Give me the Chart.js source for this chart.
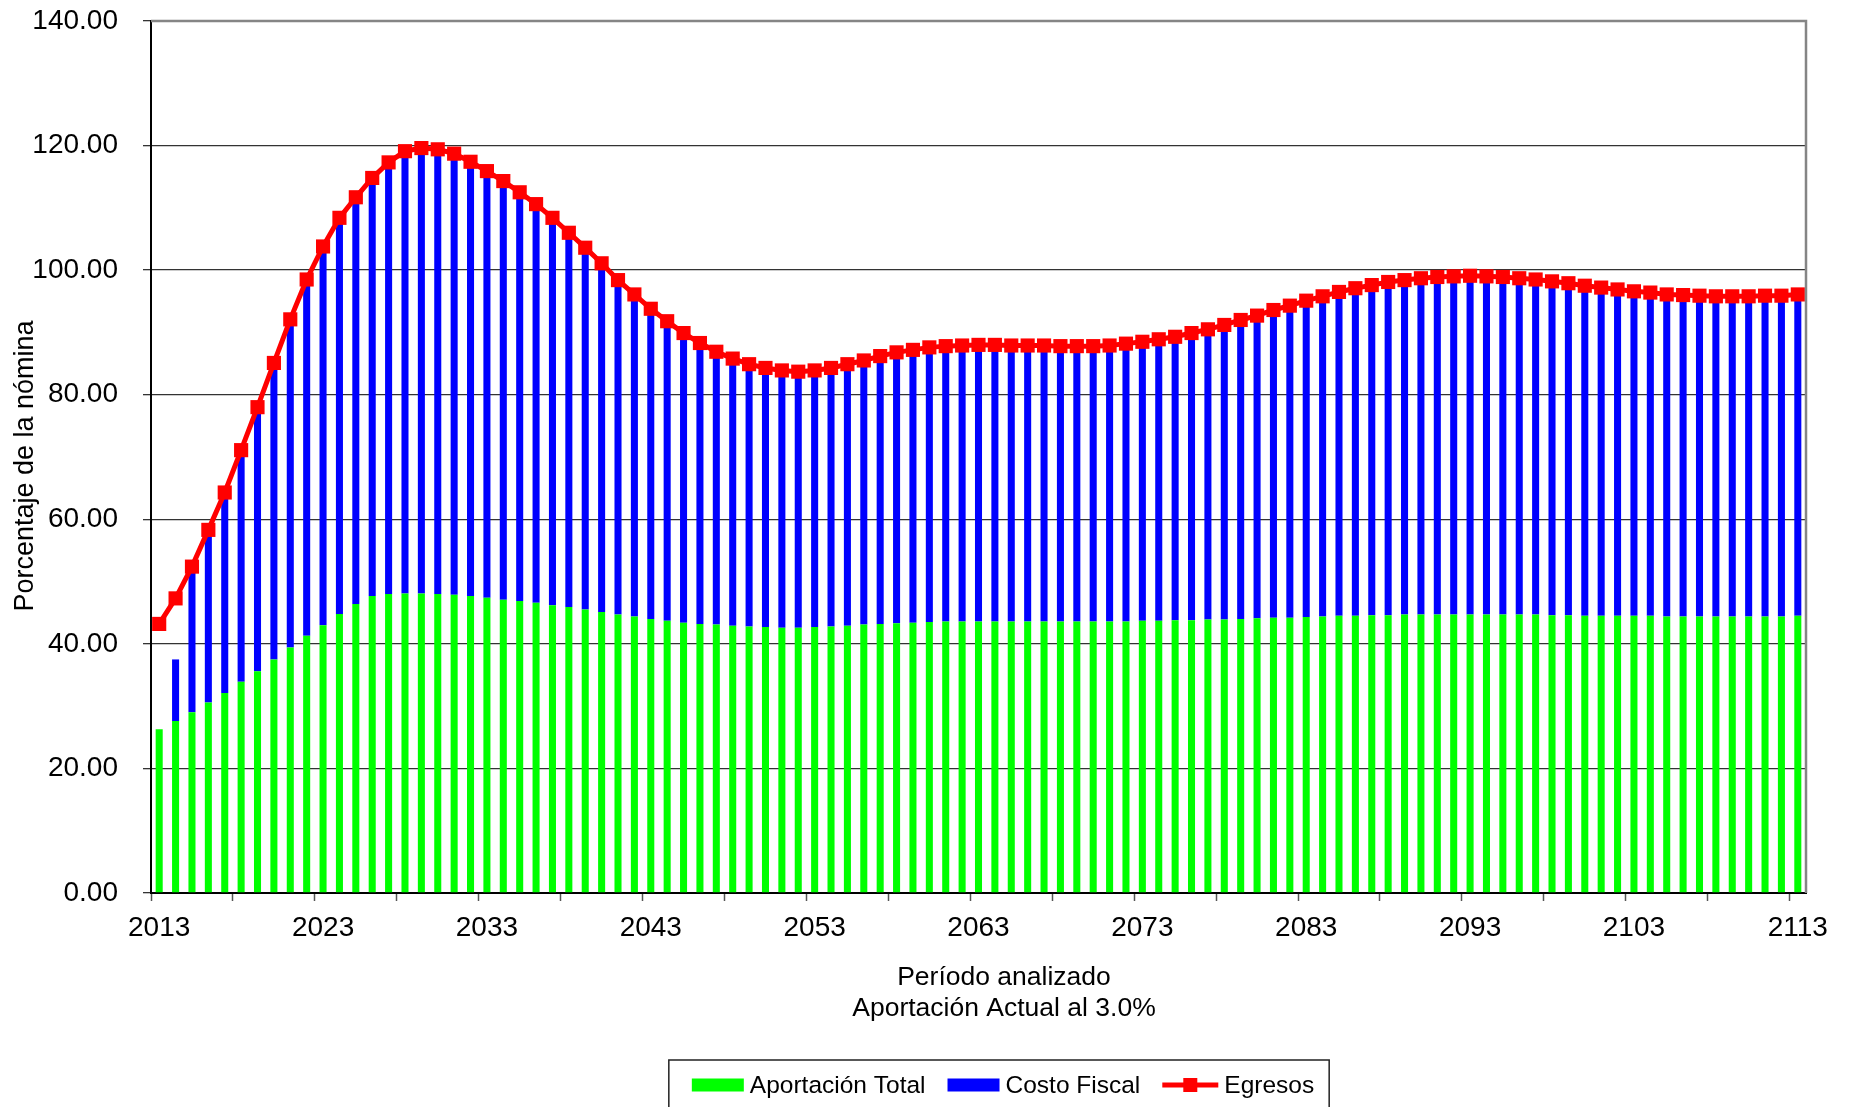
<!DOCTYPE html>
<html lang="es">
<head>
<meta charset="utf-8">
<title>Porcentaje de la nómina 2013-2113</title>
<script src="https://cdn.jsdelivr.net/npm/chart.js@4.4.1/dist/chart.umd.min.js"></script>
<style>
    html, body { margin: 0; padding: 0; background: #fff; overflow: hidden; }
    #wrap { width: 1851px; height: 1107px; }
</style>
</head>
<body>
<div id="wrap"><canvas id="nominaChart" width="1851" height="1107"></canvas></div>
<script>
const FONT = '"Liberation Sans", Arial, sans-serif';

const firstYear = 2013;
const lastYear = 2113;
const years = Array.from({ length: lastYear - firstYear + 1 }, (_, i) => String(firstYear + i));

// tick marks every 5 years, labels every 10
const tickYears = ['2013', '2018', '2023', '2028', '2033', '2038', '2043', '2048', '2053', '2058', '2063',
    '2068', '2073', '2078', '2083', '2088', '2093', '2098', '2103', '2108', '2113'];
const tickLabels = ['2013', '2023', '2033', '2043', '2053', '2063', '2073', '2083', '2093', '2103', '2113'];

const xTitle = ['Período analizado', 'Aportación Actual al 3.0%'];
const yTitle = 'Porcentaje de la nómina';

const aportacionTotal = [
    26.3, 27.6, 29.0, 30.6, 32.1, 33.9, 35.6, 37.5, 39.4, 41.3,
    43.0, 44.8, 46.4, 47.7, 48.0, 48.1, 48.1, 48.0, 47.9, 47.7,
    47.4, 47.1, 46.9, 46.6, 46.2, 45.9, 45.5, 45.1, 44.7, 44.4,
    44.0, 43.7, 43.4, 43.2, 43.1, 42.9, 42.8, 42.7, 42.6, 42.6,
    42.7, 42.8, 42.9, 43.1, 43.2, 43.3, 43.4, 43.5, 43.6, 43.6,
    43.6, 43.6, 43.6, 43.6, 43.6, 43.6, 43.6, 43.6, 43.6, 43.6,
    43.7, 43.7, 43.8, 43.8, 43.9, 43.9, 44.0, 44.1, 44.2, 44.2,
    44.3, 44.4, 44.5, 44.5, 44.6, 44.6, 44.7, 44.7, 44.7, 44.7,
    44.7, 44.7, 44.7, 44.7, 44.7, 44.6, 44.6, 44.5, 44.5, 44.5,
    44.5, 44.5, 44.4, 44.4, 44.4, 44.4, 44.4, 44.4, 44.4, 44.4,
    44.5
];

const costoFiscal = [
    0.0, 9.9, 23.4, 27.7, 32.2, 37.2, 42.4, 47.6, 52.7, 57.2,
    60.8, 63.6, 65.3, 67.1, 69.3, 71.0, 71.5, 71.4, 70.8, 69.7,
    68.5, 67.2, 65.6, 64.0, 62.2, 60.1, 58.1, 56.0, 53.7, 51.7,
    49.8, 48.1, 46.5, 45.1, 43.8, 42.9, 42.1, 41.6, 41.3, 41.1,
    41.2, 41.5, 42.0, 42.4, 43.0, 43.5, 43.8, 44.1, 44.2, 44.3,
    44.4, 44.4, 44.3, 44.3, 44.3, 44.2, 44.2, 44.2, 44.3, 44.6,
    44.8, 45.2, 45.5, 46.1, 46.6, 47.3, 48.0, 48.6, 49.4, 50.1,
    50.8, 51.4, 52.0, 52.6, 53.0, 53.5, 53.7, 54.0, 54.2, 54.3,
    54.4, 54.3, 54.2, 54.0, 53.8, 53.6, 53.3, 53.0, 52.7, 52.4,
    52.1, 51.9, 51.7, 51.6, 51.5, 51.4, 51.4, 51.4, 51.5, 51.5,
    51.6
];

const egresos = [
    43.2, 47.3, 52.4, 58.3, 64.3, 71.1, 78.0, 85.1, 92.1, 98.5,
    103.8, 108.4, 111.7, 114.8, 117.3, 119.1, 119.6, 119.4, 118.7, 117.4,
    115.9, 114.3, 112.5, 110.6, 108.4, 106.0, 103.6, 101.1, 98.4, 96.1,
    93.8, 91.8, 89.9, 88.3, 86.9, 85.8, 84.9, 84.3, 83.9, 83.7,
    83.9, 84.3, 84.9, 85.5, 86.2, 86.8, 87.2, 87.6, 87.8, 87.9,
    88.0, 88.0, 87.9, 87.9, 87.9, 87.8, 87.8, 87.8, 87.9, 88.2,
    88.5, 88.9, 89.3, 89.9, 90.5, 91.2, 92.0, 92.7, 93.6, 94.3,
    95.1, 95.8, 96.5, 97.1, 97.6, 98.1, 98.4, 98.7, 98.9, 99.0,
    99.1, 99.0, 98.9, 98.7, 98.5, 98.2, 97.9, 97.5, 97.2, 96.9,
    96.6, 96.4, 96.1, 96.0, 95.9, 95.8, 95.8, 95.8, 95.9, 95.9,
    96.1
];

const GREEN = '#00ff00';
const BLUE = '#0000ff';
const RED = '#ff0000';

// gray frame on the top and right side of the plot
const plotFrame = {
    id: 'plotFrame',
    afterDatasetsDraw(chart) {
        const { ctx, chartArea: a } = chart;
        ctx.save();
        ctx.strokeStyle = '#858585';
        ctx.lineWidth = 2.5;
        ctx.beginPath();
        ctx.moveTo(a.left, a.top);
        ctx.lineTo(a.right, a.top);
        ctx.lineTo(a.right, a.bottom);
        ctx.stroke();
        ctx.restore();
    }
};

// axis titles, placed like the spreadsheet export
const axisCaptions = {
    id: 'axisCaptions',
    afterDraw(chart, args, opts) {
        const ctx = chart.ctx;
        ctx.save();
        ctx.fillStyle = '#000';
        ctx.textAlign = 'center';
        ctx.textBaseline = 'middle';

        ctx.font = `${opts.xFontSize}px ${FONT}`;
        opts.xText.forEach((line, i) => {
            ctx.fillText(line, opts.xCenter, opts.xTop + i * opts.xLineHeight);
        });

        ctx.font = `${opts.yFontSize}px ${FONT}`;
        ctx.translate(opts.yX, opts.yCenter);
        ctx.rotate(-Math.PI / 2);
        ctx.fillText(opts.yText, 0, 0);
        ctx.restore();
    }
};

// legend in a framed box under the axis titles
const boxedLegend = {
    id: 'boxedLegend',
    afterDraw(chart, args, opts) {
        const ctx = chart.ctx;
        ctx.save();
        ctx.font = `${opts.fontSize}px ${FONT}`;
        ctx.textBaseline = 'middle';
        const items = chart.data.datasets.map(ds => ({
            ds,
            swatch: ds.type === 'line' ? opts.lineSwatch : opts.barSwatch,
            textWidth: ctx.measureText(ds.label).width
        }));
        const total = items.reduce((s, it) => s + it.swatch + opts.textGap + it.textWidth, 0)
            + opts.itemGap * (items.length - 1);
        let x = opts.centerX - total / 2;
        const y = opts.centerY;

        ctx.strokeStyle = '#222';
        ctx.lineWidth = 1.5;
        ctx.strokeRect(x - opts.padLeft, opts.top, total + opts.padLeft + opts.padRight, 120);

        items.forEach(it => {
            if (it.ds.type === 'line') {
                ctx.strokeStyle = it.ds.borderColor;
                ctx.lineWidth = it.ds.borderWidth;
                ctx.beginPath();
                ctx.moveTo(x, y);
                ctx.lineTo(x + it.swatch, y);
                ctx.stroke();
                ctx.fillStyle = it.ds.pointBackgroundColor;
                ctx.fillRect(x + it.swatch / 2 - 7, y - 7, 14, 14);
            } else {
                ctx.fillStyle = it.ds.backgroundColor;
                ctx.fillRect(x, y - 6.5, it.swatch, 13);
            }
            x += it.swatch + opts.textGap;
            ctx.fillStyle = '#000';
            ctx.fillText(it.ds.label, x, y + 1);
            x += it.textWidth + opts.itemGap;
        });
        ctx.restore();
    }
};

const ctx = document.getElementById('nominaChart').getContext('2d');

new Chart(ctx, {
    data: {
        labels: years,
        datasets: [
            {
                type: 'bar',
                label: 'Aportación Total',
                data: aportacionTotal,
                backgroundColor: GREEN,
                borderWidth: 0,
                stack: 'costos',
                order: 1,
                barPercentage: 0.43,
                categoryPercentage: 1.0
            },
            {
                type: 'bar',
                label: 'Costo Fiscal',
                data: costoFiscal,
                backgroundColor: BLUE,
                borderWidth: 0,
                stack: 'costos',
                order: 1,
                barPercentage: 0.43,
                categoryPercentage: 1.0
            },
            {
                type: 'line',
                label: 'Egresos',
                data: egresos,
                borderColor: RED,
                borderWidth: 5,
                pointStyle: 'rect',
                pointRadius: 10,
                pointBackgroundColor: RED,
                pointBorderWidth: 0,
                tension: 0,
                stack: 'egresos',
                order: 0
            }
        ]
    },
    options: {
        responsive: false,
        animation: false,
        layout: {
            padding: { left: 0, right: 45, top: 21, bottom: 84 }
        },
        scales: {
            x: {
                type: 'category',
                stacked: true,
                offset: true,
                afterFit: scale => {
                    scale.height = 130;
                    scale.paddingLeft = 0;
                    scale.paddingRight = 0;
                },
                ticks: {
                    autoSkip: false,
                    maxRotation: 0,
                    minRotation: 0,
                    padding: 10,
                    color: '#000',
                    font: { family: FONT, size: 28 },
                    callback: function (value) {
                        const label = this.getLabelForValue(value);
                        return tickLabels.includes(label) ? label : '';
                    }
                },
                grid: {
                    offset: true,
                    drawOnChartArea: false,
                    drawTicks: true,
                    tickLength: 8,
                    tickWidth: 1.5,
                    tickColor: c => (c.index !== undefined && tickYears.includes(years[c.index])) ? '#555' : 'rgba(0,0,0,0)'
                },
                border: { display: true, color: '#000', width: 2 }
            },
            y: {
                stacked: true,
                min: 0,
                max: 140,
                afterFit: scale => {
                    scale.width = 151;
                    scale.paddingTop = 0;
                    scale.paddingBottom = 0;
                },
                ticks: {
                    stepSize: 20,
                    padding: 25,
                    color: '#000',
                    font: { family: FONT, size: 28 },
                    callback: value => value.toFixed(2)
                },
                grid: {
                    color: '#333',
                    lineWidth: 1.3,
                    tickLength: 8,
                    tickColor: '#333'
                },
                border: { display: true, color: '#000', width: 2 }
            }
        },
        plugins: {
            legend: { display: false },
            tooltip: { enabled: false },
            axisCaptions: {
                xText: xTitle,
                xFontSize: 26.5,
                xCenter: 1004,
                xTop: 978,
                xLineHeight: 30.5,
                yText: yTitle,
                yFontSize: 27,
                yX: 26,
                yCenter: 466
            },
            boxedLegend: {
                fontSize: 24.5,
                centerX: 1003,
                centerY: 1085,
                top: 1060,
                padLeft: 23,
                padRight: 15,
                barSwatch: 52,
                lineSwatch: 56,
                textGap: 6,
                itemGap: 22
            }
        }
    },
    plugins: [plotFrame, axisCaptions, boxedLegend]
});
</script>
</body>
</html>
